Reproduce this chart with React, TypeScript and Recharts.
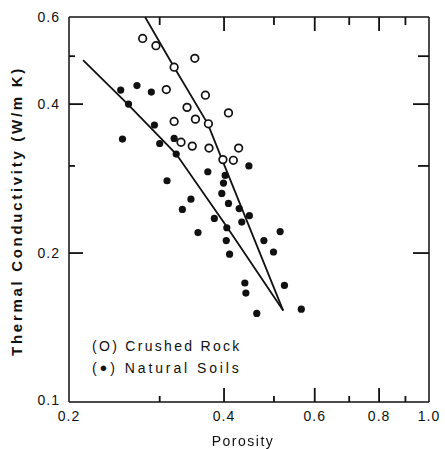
import React from 'react';
import { ScatterChart, Scatter, XAxis, YAxis } from 'recharts';

// Crushed rock (open circles)
const crushedRockPorosity = [0.278, 0.295, 0.351, 0.320, 0.309, 0.368, 0.339, 0.408, 0.320, 0.352, 0.373, 0.330, 0.347, 0.374, 0.427, 0.398, 0.417];
const crushedRockConductivity = [0.543, 0.525, 0.495, 0.475, 0.428, 0.417, 0.394, 0.384, 0.369, 0.373, 0.365, 0.335, 0.329, 0.326, 0.326, 0.309, 0.308];

// Natural soils (filled circles)
const naturalSoilsPorosity = [0.252, 0.271, 0.289, 0.261, 0.293, 0.254, 0.320, 0.300, 0.323, 0.447, 0.372, 0.402, 0.310, 0.399, 0.396, 0.345, 0.408, 0.332, 0.428, 0.448, 0.383, 0.433, 0.405, 0.356, 0.514, 0.404, 0.478, 0.499, 0.410, 0.439, 0.441, 0.524, 0.463, 0.565];
const naturalSoilsConductivity = [0.427, 0.436, 0.423, 0.400, 0.363, 0.340, 0.341, 0.333, 0.317, 0.300, 0.292, 0.287, 0.280, 0.277, 0.264, 0.257, 0.252, 0.245, 0.246, 0.238, 0.235, 0.231, 0.225, 0.220, 0.221, 0.212, 0.212, 0.201, 0.199, 0.174, 0.166, 0.172, 0.151, 0.154];

// Fitted curves
const crushedFitPorosity = [0.281, 0.320, 0.372, 0.396, 0.521];
const crushedFitConductivity = [0.600, 0.475, 0.365, 0.310, 0.153];
const soilsFitPorosity = [0.213, 0.260, 0.323, 0.405, 0.521];
const soilsFitConductivity = [0.491, 0.400, 0.317, 0.226, 0.153];

// Axis domains and ticks
const xDomain = [0.2, 1.0];
const yDomain = [0.1, 0.6];
const xAllTicks = [0.2, 0.3, 0.4, 0.5, 0.6, 0.7, 0.8, 0.9, 1.0];
const xLabelled = [0.2, 0.4, 0.6, 0.8, 1.0];
const xTickLabels = ['0.2', '0.4', '0.6', '0.8', '1.0'];
const xMajor = [0.4, 0.6, 0.8];
const xMinor = [0.3, 0.5, 0.7, 0.9];
const yAllTicks = [0.1, 0.2, 0.3, 0.4, 0.5, 0.6];
const yLabelled = [0.1, 0.2, 0.4, 0.6];
const yTickLabels = ['0.1', '0.2', '0.4', '0.6'];
const yMajor = [0.2, 0.4];
const yMinor = [0.3, 0.5];

const crushedData = crushedRockPorosity.map((x, i) => ({ x, y: crushedRockConductivity[i] }));
const soilsData = naturalSoilsPorosity.map((x, i) => ({ x, y: naturalSoilsConductivity[i] }));
const crushedFit = crushedFitPorosity.map((x, i) => ({ x, y: crushedFitConductivity[i] }));
const soilsFit = soilsFitPorosity.map((x, i) => ({ x, y: soilsFitConductivity[i] }));

const INK = '#111';
const FONT = '"Liberation Sans", Arial, sans-serif';
const TW = 1.8; // tick thickness

const lenOf = (v: number, major: number[], minor: number[], maj: number, min: number) =>
  major.indexOf(v) >= 0 ? maj : minor.indexOf(v) >= 0 ? min : 0;

// Tick marks are drawn as filled rects (inward), labels as text
const BottomTick = (p: any) => {
  const v = p.payload.value;
  const len = lenOf(v, xMajor, xMinor, 14, 6);
  const i = xLabelled.indexOf(v);
  return (
    <g>
      {len > 0 && <rect x={p.x - TW / 2} y={p.y - len} width={TW} height={len} fill={INK} />}
      {i >= 0 && (
        <text x={p.x} y={p.y + 19} textAnchor="middle" fontFamily={FONT} fontSize={14} letterSpacing={1} fill={INK}>
          {xTickLabels[i]}
        </text>
      )}
    </g>
  );
};

const TopTick = (p: any) => {
  const len = lenOf(p.payload.value, xMajor, xMinor, 14, 8);
  return <g>{len > 0 && <rect x={p.x - TW / 2} y={p.y} width={TW} height={len} fill={INK} />}</g>;
};

const LeftTick = (p: any) => {
  const v = p.payload.value;
  const len = lenOf(v, yMajor, yMinor, 14, 6);
  const i = yLabelled.indexOf(v);
  return (
    <g>
      {len > 0 && <rect x={p.x} y={p.y - TW / 2} width={len} height={TW} fill={INK} />}
      {i >= 0 && (
        <text x={p.x - 9} y={p.y + (v === 0.1 ? 3 : 5)} textAnchor="end" fontFamily={FONT} fontSize={14} letterSpacing={1} fill={INK}>
          {yTickLabels[i]}
        </text>
      )}
    </g>
  );
};

const RightTick = (p: any) => {
  const len = lenOf(p.payload.value, yMajor, yMinor, 16, 11);
  return <g>{len > 0 && <rect x={p.x - len} y={p.y - TW / 2} width={len} height={TW} fill={INK} />}</g>;
};

const OpenCircle = (p: any) => <circle cx={p.cx} cy={p.cy} r={3.8} fill="#fff" stroke={INK} strokeWidth={1.7} />;
const FilledCircle = (p: any) => <circle cx={p.cx} cy={p.cy} r={3.6} fill={INK} />;
const NoShape = () => <g />;

const axisLine = { stroke: INK, strokeWidth: 1.5 };

const textBase: React.CSSProperties = { position: 'absolute', fontFamily: FONT, fontSize: 14, color: INK, whiteSpace: 'nowrap', lineHeight: '18px' };

export default function App() {
  return (
    <div style={{ position: 'fixed', left: 0, top: 0, width: 445, height: 449, background: '#fff' }}>
      <ScatterChart width={445} height={449} margin={{ top: 12, right: 6, bottom: 7, left: 19 }}>
        <XAxis xAxisId="b" orientation="bottom" type="number" dataKey="x" scale="log" domain={xDomain} allowDataOverflow
          ticks={xAllTicks} interval={0} height={40} tickSize={0} tickMargin={0} tickLine={false} axisLine={axisLine} tick={BottomTick} />
        <XAxis xAxisId="t" orientation="top" type="number" dataKey="x" scale="log" domain={xDomain} allowDataOverflow
          ticks={xAllTicks} interval={0} height={5} tickSize={0} tickMargin={0} tickLine={false} axisLine={axisLine} tick={TopTick} />
        <YAxis yAxisId="l" orientation="left" type="number" dataKey="y" scale="log" domain={yDomain} allowDataOverflow
          ticks={yAllTicks} interval={0} width={50} tickSize={0} tickMargin={0} tickLine={false} axisLine={axisLine} tick={LeftTick} />
        <YAxis yAxisId="r" orientation="right" type="number" dataKey="y" scale="log" domain={yDomain} allowDataOverflow
          ticks={yAllTicks} interval={0} width={10} tickSize={0} tickMargin={0} tickLine={false} axisLine={axisLine} tick={RightTick} />
        <Scatter xAxisId="b" yAxisId="l" data={soilsFit} line={{ stroke: INK, strokeWidth: 1.8 }} shape={NoShape} isAnimationActive={false} />
        <Scatter xAxisId="b" yAxisId="l" data={crushedFit} line={{ stroke: INK, strokeWidth: 1.8 }} shape={NoShape} isAnimationActive={false} />
        <Scatter xAxisId="b" yAxisId="l" data={soilsData} shape={FilledCircle} isAnimationActive={false} />
        <Scatter xAxisId="b" yAxisId="l" data={crushedData} shape={OpenCircle} isAnimationActive={false} />
      </ScatterChart>
      <div style={{ ...textBase, left: 92, top: 337, letterSpacing: 2.3 }}>
        (O) Crushed Rock
      </div>
      <div style={{ ...textBase, left: 92, top: 359, letterSpacing: 2.9 }}>
        (<span style={{ fontSize: 13, verticalAlign: 'top' }}>●</span>) Natural Soils
      </div>
      <div style={{ ...textBase, left: 243, top: 441, transform: 'translate(-50%, -50%)', letterSpacing: 1.5 }}>
        Porosity
      </div>
      <div style={{ ...textBase, left: 17, top: 211, transform: 'translate(-50%, -50%) rotate(-90deg)', fontSize: 15, fontWeight: 'bold', letterSpacing: 2.7 }}>
        Thermal Conductivity (W/m K)
      </div>
    </div>
  );
}
